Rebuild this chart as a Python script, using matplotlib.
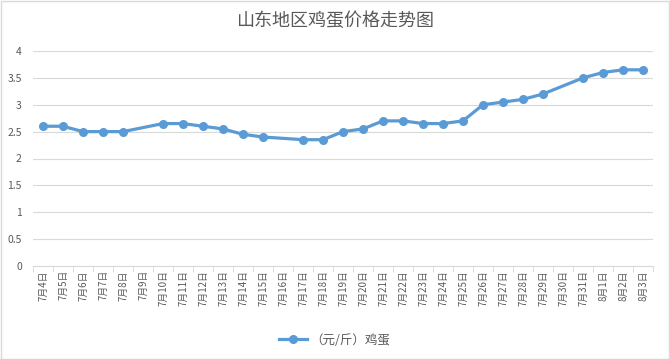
import numpy as np
import matplotlib.pyplot as plt
from matplotlib.lines import Line2D

plt.rcParams['font.family'] = ['Noto Sans CJK SC', 'DejaVu Sans']

# 日期和价格（元/斤），缺失的天为 nan
dates = ['7月4日', '7月5日', '7月6日', '7月7日', '7月8日', '7月9日', '7月10日',
         '7月11日', '7月12日', '7月13日', '7月14日', '7月15日', '7月16日', '7月17日',
         '7月18日', '7月19日', '7月20日', '7月21日', '7月22日', '7月23日', '7月24日',
         '7月25日', '7月26日', '7月27日', '7月28日', '7月29日', '7月30日', '7月31日',
         '8月1日', '8月2日', '8月3日']
prices = [2.6, 2.6, 2.5, 2.5, 2.5, np.nan, 2.65,
          2.65, 2.6, 2.55, 2.45, 2.4, np.nan, 2.35,
          2.35, 2.5, 2.55, 2.7, 2.7, 2.65, 2.65,
          2.7, 3.0, 3.05, 3.1, 3.2, np.nan, 3.5,
          3.6, 3.65, 3.65]
yticks = [0, 0.5, 1, 1.5, 2, 2.5, 3, 3.5, 4]
ytick_labels = ['0', '0.5', '1', '1.5', '2', '2.5', '3', '3.5', '4']

BLUE = '#5B9BD5'
GRAY = '#595959'
GRID = '#D9D9D9'

x = np.arange(len(dates))
y = np.array(prices)
ok = ~np.isnan(y)

fig = plt.figure(figsize=(6.7, 3.59), dpi=100)
fig.patch.set_facecolor('white')
ax = fig.add_axes([33 / 670, 1 - 266 / 359, 620 / 670, 215 / 359])

# 跳过缺失值，线连起来
ax.plot(x[ok], y[ok], color=BLUE, lw=2.3, marker='o', ms=5.5, zorder=3)

ax.set_xlim(-0.5, len(dates) - 0.5)
ax.set_ylim(0, 4)
ax.set_yticks(yticks)
ax.set_yticklabels(ytick_labels)
ax.set_xticks(x)
ax.set_xticklabels(dates, rotation=90)
ax.set_xticks(np.arange(-0.5, len(dates), 1), minor=True)
ax.tick_params(axis='x', which='major', length=0, pad=3, labelsize=7, colors=GRAY)
ax.tick_params(axis='x', which='minor', length=4, color=GRID)
ax.tick_params(axis='y', length=0, pad=8, labelsize=7.5, colors=GRAY)

ax.grid(axis='y', color=GRID, lw=0.8)
ax.set_axisbelow(True)
for s in ['top', 'right', 'left']:
    ax.spines[s].set_visible(False)
ax.spines['bottom'].set_color(GRID)
ax.spines['bottom'].set_linewidth(0.8)

fig.text(0.5, 1 - 21 / 359, '山东地区鸡蛋价格走势图', ha='center', va='center',
         fontsize=13, color=GRAY)

handle = Line2D([], [], color=BLUE, lw=2.3, marker='o', ms=5.5)
fig.legend([handle], ['（元/斤）鸡蛋'], loc='center', bbox_to_anchor=(0.5, 1 - 340 / 359),
           frameon=False, fontsize=9, labelcolor=GRAY, handlelength=2.2, handletextpad=0.3)

# 外框
fig.add_artist(plt.Rectangle((0.001, 0.001), 0.997, 0.997, transform=fig.transFigure,
                             fill=False, edgecolor=GRID, lw=1))

fig.savefig('out.png', dpi=100)
